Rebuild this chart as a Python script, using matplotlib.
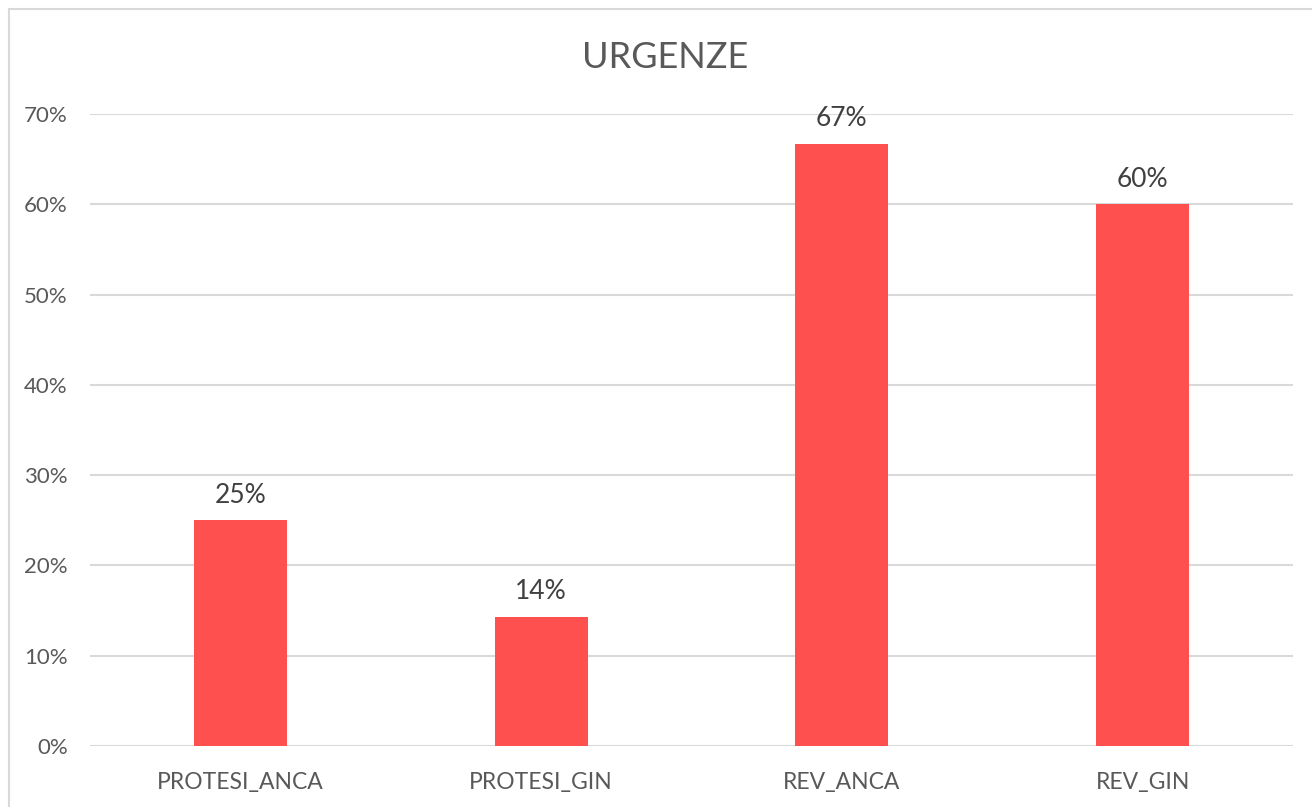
import matplotlib.pyplot as plt
from matplotlib.patches import Rectangle
from matplotlib.ticker import PercentFormatter

categories = ['PROTESI_ANCA', 'PROTESI_GIN', 'REV_ANCA', 'REV_GIN']
values = [0.25, 0.143, 0.667, 0.60]
labels = ['25%', '14%', '67%', '60%']

plt.rcParams['font.family'] = ['Lato', 'DejaVu Sans']
text_color = '#595959'

fig = plt.figure(figsize=(13.12, 8.07), dpi=100)
ax = fig.add_axes([90 / 1312, 61 / 807, 1203 / 1312, 632 / 807])

x = range(len(categories))
bars = ax.bar(x, values, width=0.31, color='#FF5050', zorder=3)
for b, lab in zip(bars, labels):
    ax.annotate(lab, (b.get_x() + b.get_width() / 2, b.get_height()),
                xytext=(0, 9), textcoords='offset points',
                ha='center', va='bottom', fontsize=19, color='#404040')

ax.set_xlim(-0.5, len(categories) - 0.5)
ax.set_ylim(0, 0.7)
ax.set_yticks([i / 10 for i in range(8)])
ax.yaxis.set_major_formatter(PercentFormatter(1.0, decimals=0))
ax.set_xticks(list(x))
ax.set_xticklabels(categories)
ax.tick_params(axis='both', length=0, colors=text_color)
ax.tick_params(axis='y', pad=16, labelsize=16)
ax.tick_params(axis='x', pad=19, labelsize=16.5)
ax.grid(axis='y', color='#D9D9D9', linewidth=1.5, zorder=0)
for s in ax.spines.values():
    s.set_visible(False)

fig.text(665 / 1312, 1 - 58 / 807, 'URGENZE', ha='center', va='center',
         fontsize=26, color=text_color)

# outer chart border (cut off at right and bottom)
fig.patches.append(Rectangle((9 / 1312, -0.05), 1.1, 1 - 9 / 807 + 0.05,
                             transform=fig.transFigure, fill=False,
                             edgecolor='#D9D9D9', linewidth=1.5))

plt.savefig('out.png', dpi=100)
